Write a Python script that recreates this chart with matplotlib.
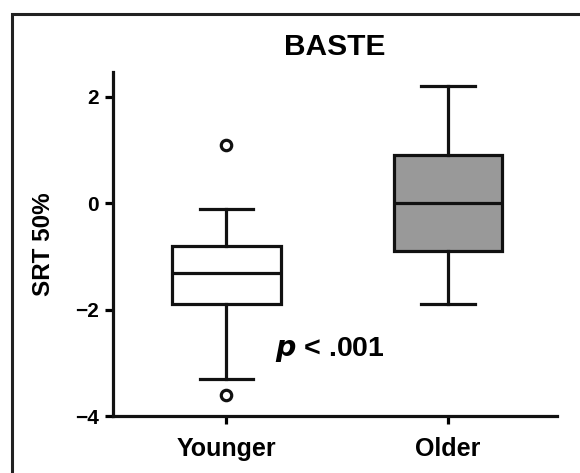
import matplotlib.pyplot as plt
from matplotlib.patches import Rectangle

plt.rcParams['font.family'] = ['Liberation Sans', 'DejaVu Sans']
plt.rcParams['font.weight'] = 'bold'

# données
groups = ["Younger", "Older"]
whisker_low = [-3.3, -1.9]
q1 = [-1.9, -0.9]
median = [-1.3, 0.0]
q3 = [-0.8, 0.9]
whisker_high = [-0.1, 2.2]
outliers = [[1.1, -3.6], []]
box_colors = ["white", "#999999"]

stats = []
for i, g in enumerate(groups):
    stats.append({
        "label": g,
        "whislo": whisker_low[i],
        "q1": q1[i],
        "med": median[i],
        "q3": q3[i],
        "whishi": whisker_high[i],
        "fliers": outliers[i],
    })

fig = plt.figure(figsize=(5.8, 4.73), dpi=100)
ax = fig.add_axes([0.195, 0.120, 0.765, 0.728])

lw = 2.3
bp = ax.bxp(stats, positions=[0, 1], widths=0.49, patch_artist=True,
            boxprops=dict(linewidth=lw, edgecolor="#111111"),
            medianprops=dict(linewidth=lw, color="#111111"),
            whiskerprops=dict(linewidth=lw, color="#111111"),
            capprops=dict(linewidth=lw, color="#111111"),
            capwidths=0.24,
            flierprops=dict(marker="o", markersize=7.5, markeredgewidth=2.3,
                            markerfacecolor="white", markeredgecolor="#111111"))
for patch, c in zip(bp["boxes"], box_colors):
    patch.set_facecolor(c)

ax.set_xlim(-0.51, 1.49)
ax.set_ylim(-4, 2.47)
ax.set_yticks([-4, -2, 0, 2])
ax.set_yticklabels(["\u22124", "\u22122", "0", "2"])
ax.set_xticks([0, 1])
ax.set_xticklabels(groups)

for s in ["top", "right"]:
    ax.spines[s].set_visible(False)
for s in ["left", "bottom"]:
    ax.spines[s].set_linewidth(lw)
    ax.spines[s].set_color("#111111")
ax.tick_params(axis="y", length=6, width=lw, labelsize=15, pad=4)
ax.tick_params(axis="x", length=6, width=lw, labelsize=18, pad=9)

ax.set_ylabel("SRT 50%", fontsize=17.5, fontweight="bold", labelpad=15)
ax.set_title("BASTE", fontsize=21.5, fontweight="bold", pad=12)

ax.text(0.22, -2.75, r"$\mathbfit{p}$ < .001", fontsize=20.5, fontweight="bold",
        ha="left", va="center")

# cadre extérieur
fig.patches.append(Rectangle((12 / 580, -0.1), 1.2, 0.1 + 1 - 14 / 473,
                             transform=fig.transFigure, fill=False,
                             linewidth=2.2, edgecolor="#222222"))

fig.savefig("out.png", dpi=100)
